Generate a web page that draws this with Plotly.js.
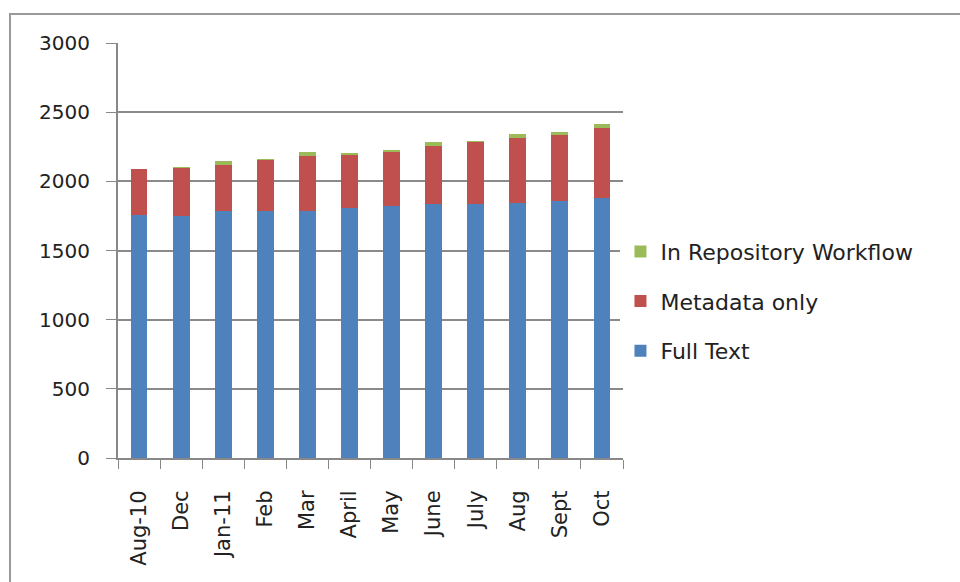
<!DOCTYPE html>
<html>
<head>
<meta charset="utf-8">
<script src="https://cdn.plot.ly/plotly-3.0.1.min.js"></script>
<style>
  html, body { margin: 0; padding: 0; background: #fff; }
  #wrap { position: relative; width: 960px; height: 582px; overflow: hidden; }
  #chart { position: absolute; left: 0; top: 0; width: 960px; height: 582px; }
  #frame { position: absolute; left: 9px; top: 13px; width: 960px; height: 600px;
           border-left: 2px solid #9a9a9a; border-top: 2px solid #9a9a9a; pointer-events: none; }
</style>
</head>
<body>
<div id="wrap">
  <div id="chart"></div>
  <div id="frame"></div>
</div>
<script>
const categories = ["Aug-10", "Dec", "Jan-11", "Feb", "Mar", "April", "May", "June", "July", "Aug", "Sept", "Oct"];
const fullText = [1760, 1750, 1785, 1783, 1785, 1805, 1820, 1835, 1835, 1845, 1860, 1880];
const metadataOnly = [327, 346, 335, 369, 400, 385, 394, 420, 451, 469, 475, 506];
const inRepositoryWorkflow = [5, 8, 25, 10, 25, 15, 10, 30, 8, 28, 25, 30];
const yTicks = [0, 500, 1000, 1500, 2000, 2500, 3000];

const traces = [
  { type: "bar", name: "Full Text", x: categories, y: fullText,
    marker: { color: "#4F81BD" }, legendgroup: "a", legendrank: 3 },
  { type: "bar", name: "Metadata only", x: categories, y: metadataOnly,
    marker: { color: "#C0504D" }, legendgroup: "b", legendrank: 2 },
  { type: "bar", name: "In Repository Workflow", x: categories, y: inRepositoryWorkflow,
    marker: { color: "#9BBB59" }, legendgroup: "c", legendrank: 1 }
];

const layout = {
  width: 960, height: 582,
  margin: { l: 118, r: 337, t: 43, b: 124 },
  barmode: "stack",
  bargap: 0.6,
  paper_bgcolor: "#ffffff",
  plot_bgcolor: "#ffffff",
  font: { family: "DejaVu Sans, sans-serif", size: 20, color: "#222" },
  showlegend: true,
  legend: {
    x: 0.995, y: 0.378, xanchor: "left", yanchor: "middle",
    traceorder: "grouped", tracegroupgap: 18,
    font: { size: 22, color: "#222" },
    itemwidth: 30
  },
  xaxis: {
    type: "category",
    tickangle: -90,
    ticks: "outside", ticklen: 9, tickcolor: "#888", tickson: "boundaries",
    ticklabelstandoff: 22,
    showline: true, linecolor: "#888", linewidth: 2,
    showgrid: false,
    tickfont: { size: 21, color: "#222" }
  },
  yaxis: {
    range: [0, 3000],
    tickvals: yTicks,
    ticks: "outside", ticklen: 10, tickcolor: "#888",
    ticklabelstandoff: 12,
    showline: true, linecolor: "#888", linewidth: 2,
    showgrid: true, gridcolor: "#8a8a8a", gridwidth: 2,
    zeroline: false,
    tickfont: { size: 20, color: "#222" }
  }
};

Plotly.newPlot("chart", traces, layout, { displayModeBar: false, staticPlot: true });
</script>
</body>
</html>
